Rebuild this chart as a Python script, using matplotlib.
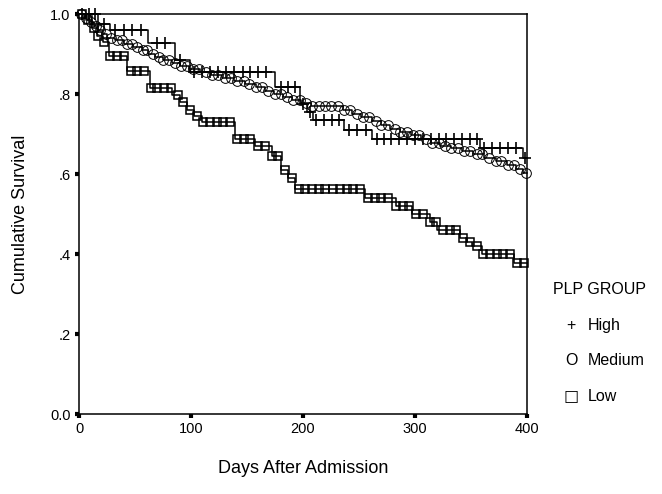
"""
Kaplan-Meier style survival curves by PLP group.
"""

import numpy as np
import matplotlib
matplotlib.use("Agg")
import matplotlib.pyplot as plt

plt.rcParams["font.family"] = ["Liberation Sans", "DejaVu Sans"]

# ─────────────────────────────────────────────
# step curves: time of each drop and level after it
high_t = [0, 17, 28, 62, 86, 99, 175, 197, 204, 209, 237, 262, 358, 396]
high_s = [1.0, 0.975, 0.96, 0.927, 0.885, 0.855, 0.817, 0.776, 0.755, 0.734,
          0.71, 0.688, 0.665, 0.64]

med_t = [0, 5, 9, 13, 17, 21, 25, 32, 40, 48, 56, 62, 68, 75, 83, 90, 98, 108,
         118, 128, 138, 148, 158, 166, 174, 182, 190, 198, 207, 236, 244, 252,
         262, 270, 278, 287, 296, 305, 314, 322, 332, 342, 352, 362, 372, 382,
         390, 396]
med_s = [1.0, 0.99, 0.98, 0.97, 0.96, 0.95, 0.94, 0.935, 0.925, 0.918, 0.91,
         0.90, 0.893, 0.885, 0.877, 0.87, 0.862, 0.855, 0.848, 0.84, 0.833,
         0.826, 0.817, 0.808, 0.80, 0.792, 0.785, 0.778, 0.77, 0.76, 0.75,
         0.742, 0.733, 0.722, 0.712, 0.705, 0.697, 0.688, 0.678, 0.67, 0.665,
         0.658, 0.65, 0.64, 0.632, 0.623, 0.613, 0.603]

low_t = [0, 6, 12, 16, 21, 27, 43, 63, 83, 90, 96, 103, 110, 139, 157, 172,
         180, 187, 193, 255, 283, 297, 313, 320, 340, 346, 351, 360, 388]
low_s = [1.0, 0.985, 0.965, 0.945, 0.93, 0.895, 0.857, 0.814, 0.797, 0.78,
         0.76, 0.745, 0.729, 0.688, 0.67, 0.645, 0.61, 0.59, 0.563, 0.54,
         0.52, 0.50, 0.48, 0.46, 0.44, 0.43, 0.42, 0.40, 0.377]

# censored observations (marker positions, days)
high_cens = [3, 9, 14, 22, 32, 40, 47, 55, 70, 77, 90, 103, 110, 117, 124, 131,
             138, 146, 153, 160, 167, 180, 187, 193, 200, 206, 212, 219, 226,
             232, 241, 248, 256, 266, 272, 279, 286, 293, 300, 307, 314, 321,
             328, 335, 342, 349, 355, 362, 369, 376, 383, 390, 398]
med_cens = [2, 6, 11, 15, 19, 24, 29, 34, 38, 43, 47, 52, 57, 61, 66, 71, 75,
            80, 86, 91, 96, 102, 107, 113, 119, 124, 130, 136, 141, 147, 152,
            158, 163, 169, 175, 180, 186, 191, 197, 203, 208, 214, 220, 225,
            231, 237, 242, 248, 254, 259, 265, 270, 276, 282, 287, 293, 298,
            304, 310, 315, 321, 327, 332, 338, 344, 349, 355, 360, 366, 372,
            377, 383, 388, 394, 399]
low_cens = [3, 8, 13, 17, 22, 28, 34, 40, 46, 52, 58, 64, 70, 76, 82, 88, 93,
            99, 105, 111, 117, 123, 129, 135, 141, 147, 153, 160, 166, 172,
            178, 184, 190, 196, 202, 208, 214, 220, 227, 233, 239, 245, 251,
            258, 264, 270, 276, 283, 289, 295, 301, 307, 313, 319, 325, 331,
            337, 343, 349, 355, 361, 367, 373, 379, 385, 391, 397]

x_ticks = [0, 100, 200, 300, 400]
y_ticks = [0.0, 0.2, 0.4, 0.6, 0.8, 1.0]
y_tick_labels = ["0.0", ".2", ".4", ".6", ".8", "1.0"]
legend_title = "PLP GROUP"
group_names = ["High", "Medium", "Low"]
group_symbols = ["+", "O", "\u25a1"]
X_MAX = 400


def level_at(t, s, days):
    t = np.asarray(t)
    s = np.asarray(s)
    idx = np.searchsorted(t, np.asarray(days), side="right") - 1
    return s[idx]


def draw_group(ax, t, s, cens, marker, ms, mew):
    ax.step(list(t) + [X_MAX], list(s) + [s[-1]], where="post",
            color="black", lw=1.1, clip_on=False)
    ax.plot(cens, level_at(t, s, cens), linestyle="none", marker=marker,
            ms=ms, mfc="none", mec="black", mew=mew, clip_on=False)


fig = plt.figure(figsize=(6.62, 4.94), dpi=100)
ax = fig.add_axes([79 / 662, 1 - 414 / 494, 448 / 662, 400 / 494])

draw_group(ax, med_t, med_s, med_cens, "o", 7.0, 0.7)
draw_group(ax, high_t, high_s, high_cens, "+", 9.0, 1.2)
draw_group(ax, low_t, low_s, low_cens, "s", 6.4, 1.1)

ax.set_xlim(0, X_MAX)
ax.set_ylim(0, 1)
ax.set_xticks(x_ticks)
ax.set_xticklabels([str(v) for v in x_ticks])
ax.set_yticks(y_ticks)
ax.set_yticklabels(y_tick_labels)
ax.tick_params(direction="out", length=3, width=3, labelsize=10.5, pad=3)
for sp in ax.spines.values():
    sp.set_linewidth(1.1)

ax.set_xlabel("Days After Admission", fontsize=13, labelpad=17)
ax.set_ylabel("Cumulative Survival", fontsize=13, labelpad=15)

# legend drawn as plain text like the original
fig.text(553 / 662, 1 - 289 / 494, legend_title, fontsize=11.5, va="center")
for i, (sym, name) in enumerate(zip(group_symbols, group_names)):
    y = 1 - (325 + i * 35.5) / 494
    fig.text(571 / 662, y, sym, fontsize=11.5, va="center", ha="center",
             family=["DejaVu Sans"] if sym == "\u25a1" else None)
    fig.text(588 / 662, y, name, fontsize=11.5, va="center")

fig.savefig("out.png", dpi=100)
